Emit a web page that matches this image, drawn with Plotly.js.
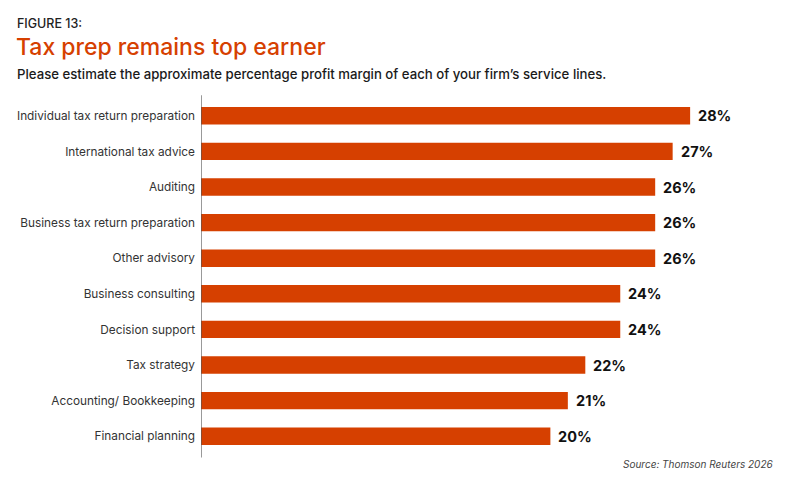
<!DOCTYPE html>
<html>
<head>
<meta charset="utf-8">
<script src="https://cdn.plot.ly/plotly-3.0.1.min.js"></script>
<style>
  html, body { margin: 0; padding: 0; background: #ffffff; }
  #chart { width: 800px; height: 486px; }
</style>
</head>
<body>
<div id="chart"></div>
<script>
// Service lines, listed top to bottom
const serviceLines = [
  "Individual tax return preparation",
  "International tax advice",
  "Auditing",
  "Business tax return preparation",
  "Other advisory",
  "Business consulting",
  "Decision support",
  "Tax strategy",
  "Accounting/ Bookkeeping",
  "Financial planning"
];

// Approximate profit margin, percent
const profitMargin = [28, 27, 26, 26, 26, 24, 24, 22, 21, 20];

const ORANGE = "#D64000";
const FONT = "Inter, 'Noto Sans', sans-serif";

// Plot area geometry in pixels, used to place the header text in paper units
const M_LEFT = 201, M_RIGHT = 40, M_TOP = 98, M_BOTTOM = 32;
const PLOT_W = 800 - M_LEFT - M_RIGHT;
const PLOT_H = 486 - M_TOP - M_BOTTOM;
const px = (x) => (x - M_LEFT) / PLOT_W;
const py = (y) => 1 - (y - M_TOP) / PLOT_H;

const bars = {
  type: "bar",
  orientation: "h",
  y: serviceLines,
  x: profitMargin,
  marker: { color: ORANGE, line: { width: 0 } },
  hoverinfo: "skip",
  cliponaxis: false
};

// Value labels to the right of each bar
const valueLabels = serviceLines.map((name, i) => ({
  x: profitMargin[i],
  y: name,
  xref: "x",
  yref: "y",
  text: profitMargin[i] + "%",
  showarrow: false,
  xanchor: "left",
  yanchor: "middle",
  xshift: 6,
  font: { family: FONT, size: 14.5, color: "#111111", weight: 700 }
}));

const textAnnotations = [
  {
    text: "FIGURE 13:",
    xref: "paper", yref: "paper",
    x: px(15), y: py(14),
    xanchor: "left", yanchor: "top",
    showarrow: false,
    font: { family: FONT, size: 12.5, color: "#222222", weight: 500 }
  },
  {
    text: "Tax prep remains top earner",
    xref: "paper", yref: "paper",
    x: px(14), y: py(31),
    xanchor: "left", yanchor: "top",
    showarrow: false,
    font: { family: FONT, size: 23, color: ORANGE, weight: 500 }
  },
  {
    text: "Please estimate the approximate percentage profit margin of each of your firm\u2019s service lines.",
    xref: "paper", yref: "paper",
    x: px(15), y: py(64),
    xanchor: "left", yanchor: "top",
    showarrow: false,
    font: { family: FONT, size: 13.2, color: "#1a1a1a", weight: 500 }
  },
  {
    text: "<i>Source: Thomson Reuters 2026</i>",
    xref: "paper", yref: "paper",
    x: px(775), y: py(456),
    xanchor: "right", yanchor: "top",
    showarrow: false,
    font: { family: FONT, size: 10, color: "#444444" }
  }
];

const layout = {
  width: 800,
  height: 486,
  paper_bgcolor: "#ffffff",
  plot_bgcolor: "#ffffff",
  showlegend: false,
  margin: { l: M_LEFT, r: M_RIGHT, t: M_TOP, b: M_BOTTOM },
  bargap: 0.51,
  xaxis: {
    range: [0, 32],
    showgrid: false,
    zeroline: false,
    showline: false,
    showticklabels: false,
    ticks: "",
    fixedrange: true
  },
  yaxis: {
    autorange: "reversed",
    showgrid: false,
    zeroline: false,
    showline: false,
    ticks: "",
    ticklabelstandoff: 5,
    tickfont: { family: FONT, size: 11.8, color: "#333333" },
    fixedrange: true
  },
  shapes: [
    {
      type: "line",
      xref: "x", yref: "paper",
      x0: 0, x1: 0, y0: -0.01, y1: 1.008,
      line: { color: "#555555", width: 1.2 }
    }
  ],
  annotations: valueLabels.concat(textAnnotations)
};

Plotly.newPlot("chart", [bars], layout, { displayModeBar: false, staticPlot: true });
</script>
</body>
</html>
